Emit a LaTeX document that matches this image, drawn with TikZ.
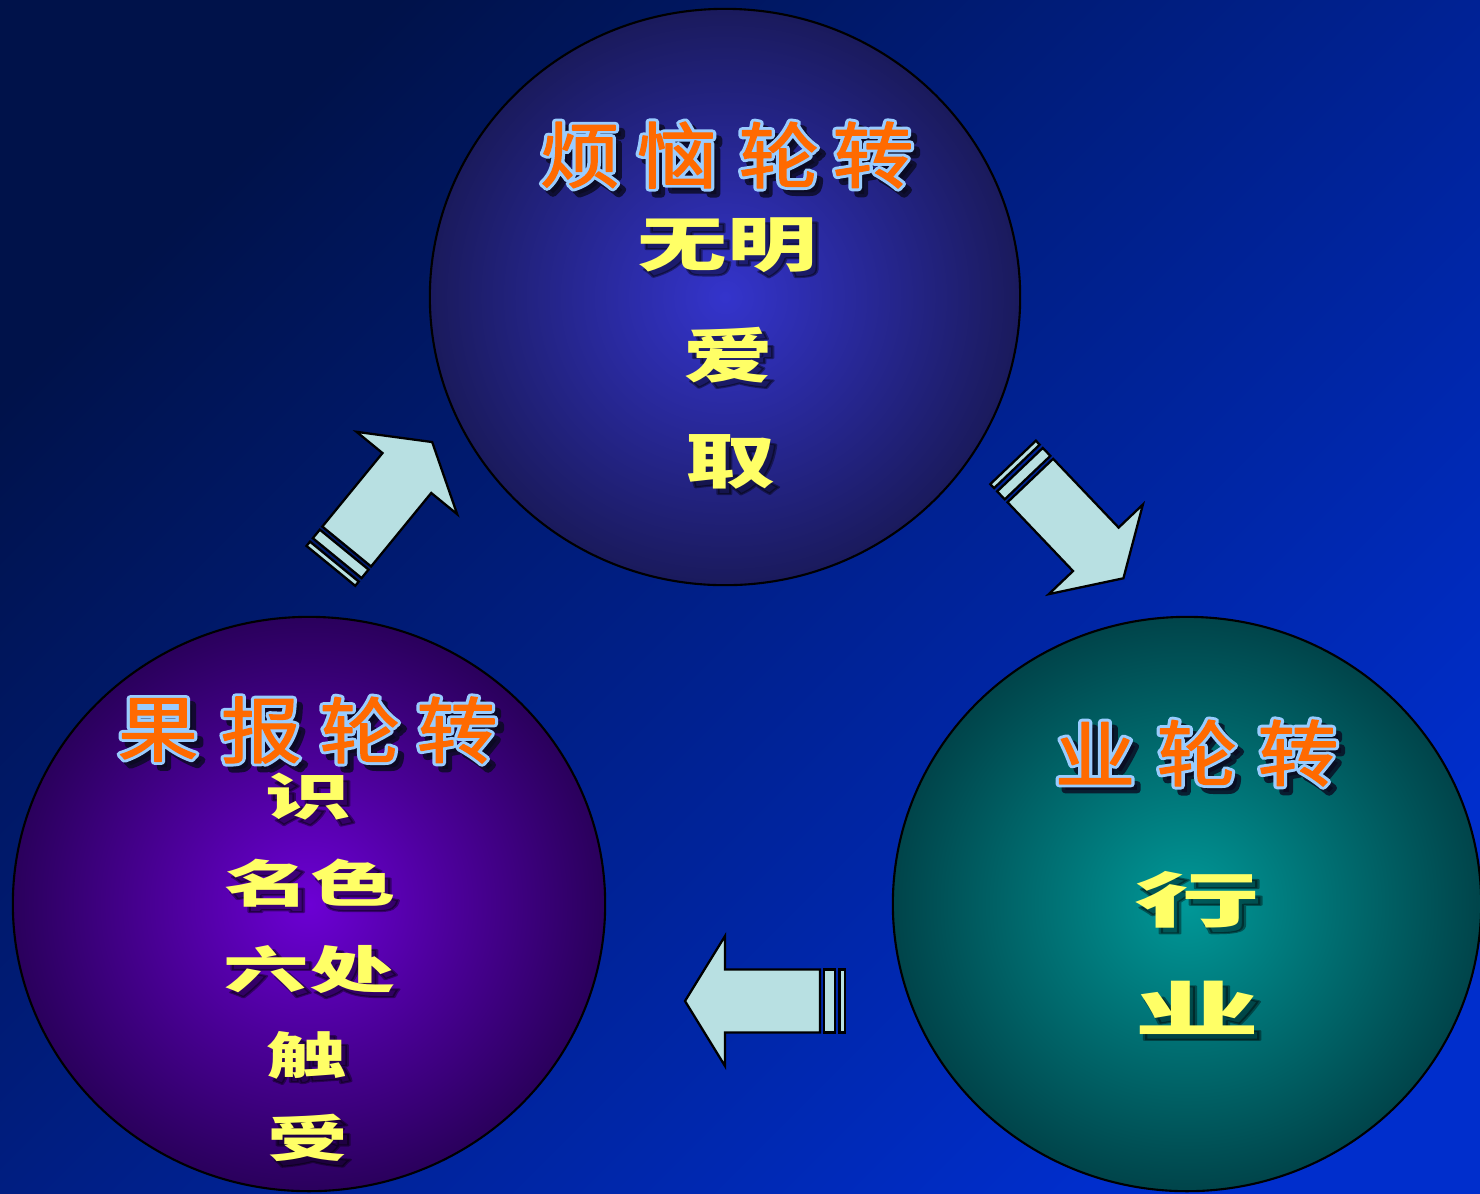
\documentclass[tikz,border=0pt]{standalone}
\usepackage{fontspec}
\usepackage{graphicx}
\newfontfamily\cjk{Noto Sans CJK SC}
\usetikzlibrary{calc,shapes.geometric}
\definecolor{bgA}{HTML}{00124A}
\definecolor{bgB}{HTML}{002ECC}
\definecolor{topIn}{HTML}{3434CC}
\definecolor{topOut}{HTML}{1A1A5C}
\definecolor{leftIn}{HTML}{6C00D4}
\definecolor{leftOut}{HTML}{2A005C}
\definecolor{rightIn}{HTML}{009898}
\definecolor{rightOut}{HTML}{00444A}
\definecolor{arrowFill}{HTML}{B8E0E2}
\definecolor{ttlOrange}{HTML}{FF6A00}
\definecolor{ttlLine}{HTML}{99CCFF}
\definecolor{ttlShadow}{HTML}{0A0A20}
\definecolor{bodyYellow}{HTML}{FFFF66}
% text rendering mode helper (stroke glyph outlines)
\newcommand\strokedtext[3]{\special{pdf:literal direct #1 Tr #2 w 1 j 1 J}#3\special{pdf:literal direct 0 Tr}}
\tikzset{
  ball/.style={ellipse, draw=black, line width=0.6pt, inner sep=0pt},
  blockarrow/.style={draw=black, fill=arrowFill, line width=0.65pt, line join=miter},
  ttlfont/.style={font=\cjk\fontsize{20.5}{20.5}\selectfont, inner sep=0pt},
  ttlmain/.style={ttlfont, text=ttlOrange},
  ttlline/.style={ttlfont, text=ttlLine},
  ttlshade/.style={ttlfont, text=ttlShadow, text opacity=0.8},
  bodytop/.style={font=\cjk\bfseries\fontsize{17}{17}\selectfont, inner sep=0pt},
  bodyleft/.style={font=\cjk\bfseries\fontsize{14.3}{14.3}\selectfont, inner sep=0pt},
  bodyright/.style={font=\cjk\bfseries\fontsize{17}{17}\selectfont, inner sep=0pt},
  bodymain/.style={text=bodyYellow},
  bodyshadow/.style={text=black, text opacity=0.4}
}
% title character: name, position, character
\newcommand\ttlchar[3]{%
  \node[ttlshade] (#1s) at ($(#2)+(6,6)$) {\strokedtext{2}{2.0}{\scalebox{1.12}[1]{#3}}};
  \node[ttlline] (#1o) at (#2) {\strokedtext{2}{2.0}{\scalebox{1.12}[1]{#3}}};
  \node[ttlmain] (#1) at (#2) {\strokedtext{2}{0.35}{\scalebox{1.12}[1]{#3}}};
}
% body text: style, name, position, xscale, text
\newcommand\bodytxt[5]{%
  \node[#1, bodyshadow] (#2s) at ($(#3)+(5,5)$) {\strokedtext{2}{0.6}{\scalebox{#4}[1]{#5}}};
  \node[#1, bodymain] (#2) at (#3) {\scalebox{#4}[1]{#5}};
}
\begin{document}
\begin{tikzpicture}[x=0.01cm, y=-0.01cm]
\useasboundingbox (0,0) rectangle (1480,1193);
\shade[top color=bgA, bottom color=bgB, shading angle=45] (0,0) rectangle (1480,1193);

% three wheels
\node[ball, minimum width=5.90cm, minimum height=5.76cm, shade, inner color=topIn, outer color=topOut] (fan) at (725,297) {};
\node[ball, minimum width=5.92cm, minimum height=5.74cm, shade, inner color=leftIn, outer color=leftOut] (guo) at (309,904) {};
\node[ball, minimum width=5.88cm, minimum height=5.74cm, shade, inner color=rightIn, outer color=rightOut] (ye) at (1187,904) {};

% block arrows
\begin{scope}[shift={(346.7,546.5)}, rotate=50.7]
  \draw[blockarrow] (0,-31.5) -- (95,-31.5) -- (95,-65) -- (135,0) -- (95,65) -- (95,31.5) -- (0,31.5) -- cycle;
  \draw[blockarrow] (-4,-31.5) rectangle (-15,31.5);
  \draw[blockarrow] (-19.5,-31.5) rectangle (-25,31.5);
\end{scope}
\begin{scope}[shift={(1030.3,480.5)}, rotate=-46.4]
  \draw[blockarrow] (0,-31.5) -- (95,-31.5) -- (95,-65) -- (135,0) -- (95,65) -- (95,31.5) -- (0,31.5) -- cycle;
  \draw[blockarrow] (-4,-31.5) rectangle (-15,31.5);
  \draw[blockarrow] (-19.5,-31.5) rectangle (-25,31.5);
\end{scope}
\begin{scope}[shift={(820,1001)}, rotate=180]
  \draw[blockarrow] (0,-31.5) -- (95,-31.5) -- (95,-65) -- (135,0) -- (95,65) -- (95,31.5) -- (0,31.5) -- cycle;
  \draw[blockarrow] (-4,-31.5) rectangle (-15,31.5);
  \draw[blockarrow] (-19.5,-31.5) rectangle (-25,31.5);
\end{scope}

% titles
\ttlchar{fa}{580,155}{烦}
\ttlchar{fb}{677,155}{恼}
\ttlchar{fc}{779,155}{轮}
\ttlchar{fd}{873,155}{转}
\ttlchar{ga}{158,730}{果}
\ttlchar{gb}{261,730}{报}
\ttlchar{gc}{360,730}{轮}
\ttlchar{gd}{457,730}{转}
\ttlchar{ya}{1095,753}{业}
\ttlchar{yb}{1197,753}{轮}
\ttlchar{yc}{1298,753}{转}

% body texts
\bodytxt{bodytop}{wuming}{727,245}{1.5}{无明}
\bodytxt{bodytop}{ai}{728,355}{1.5}{爱}
\bodytxt{bodytop}{qu}{730,462}{1.5}{取}
\bodytxt{bodyleft}{shi}{308,797}{1.7}{识}
\bodytxt{bodyleft}{mingse}{310,883}{1.7}{名色}
\bodytxt{bodyleft}{liuchu}{309,969}{1.7}{六处}
\bodytxt{bodyleft}{chu}{307,1055}{1.6}{触}
\bodytxt{bodyleft}{shou}{308,1138}{1.6}{受}
\bodytxt{bodyright}{xing}{1197,900}{2.1}{行}
\bodytxt{bodyright}{yeye}{1197,1008}{2.1}{业}
\end{tikzpicture}
\end{document}
